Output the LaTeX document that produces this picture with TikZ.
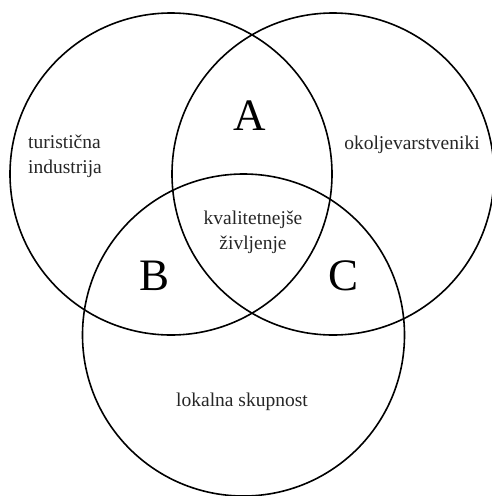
\documentclass[tikz,border=0pt]{standalone}
\usepackage{fontspec}
\setmainfont{Liberation Serif}
\begin{document}
\begin{tikzpicture}[x=1pt,y=-1pt,
  ring/.style={draw=black,line width=1.6pt},
  lbl/.style={font=\fontsize{19.5}{25}\selectfont,text=black!85,inner sep=0pt},
  zone/.style={font=\fontsize{45}{45}\selectfont,inner sep=0pt}]
\useasboundingbox (0,0) rectangle (492,496);
% three overlapping circles
\node[ring,circle,minimum size=322pt,inner sep=0pt] (left) at (171,174) {};
\node[ring,circle,minimum size=322pt,inner sep=0pt] (right) at (333,174) {};
\node[ring,circle,minimum size=322pt,inner sep=0pt] (bottom) at (243.5,335) {};
% group labels
\node[lbl,align=left,anchor=west] (tourism) at (28,156) {turistična\\industrija};
\node[lbl] (env) at (412,145) {okoljevarstveniki};
\node[lbl] (local) at (242,402) {lokalna skupnost};
\node[lbl,align=center] (core) at (253,232) {kvalitetnejše\\življenje};
% overlap letters
\node[zone] (A) at (250,116) {A};
\node[zone] (B) at (155,276) {B};
\node[zone] (C) at (344,276) {C};
\end{tikzpicture}
\end{document}
